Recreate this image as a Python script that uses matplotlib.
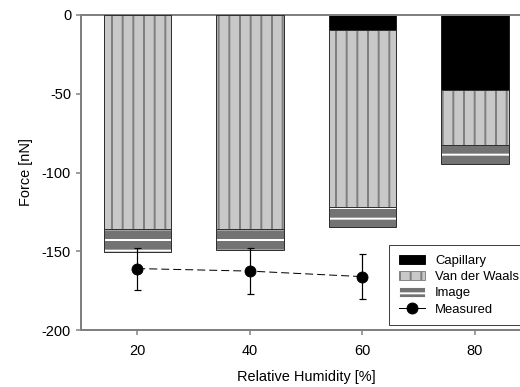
import matplotlib
matplotlib.use("Agg")
import matplotlib.pyplot as plt
import numpy as np
from matplotlib.patches import Patch
from matplotlib.lines import Line2D

# data (forces in nN, drawn downward)
rh = np.array([20, 40, 60, 80])
capillary = np.array([0.0, 0.0, 9.3, 47.9])
vdw = np.array([135.9, 136.0, 112.4, 34.7])
image = np.array([14.6, 13.2, 12.7, 12.0])

rh_meas = np.array([20, 40, 60])
measured = np.array([-161.0, -162.6, -166.1])
meas_err = np.array([13.3, 14.5, 14.2])

DPI = 64
PT = 72 / DPI  # pixel -> point

plt.rcParams['font.family'] = ['Liberation Sans', 'DejaVu Sans']
plt.rcParams['hatch.linewidth'] = 2.0 * PT
plt.rcParams['axes.unicode_minus'] = False

fig = plt.figure(figsize=(520 / DPI, 387 / DPI), dpi=DPI)
ax = fig.add_axes([81 / 520, 1 - 330 / 387, 450 / 520, 315 / 387])

w = 12
top_cap = np.zeros(4)
top_vdw = -capillary
top_img = -(capillary + vdw)

# capillary
ax.bar(rh, -capillary, w, bottom=top_cap, color='black',
       edgecolor='#202020', linewidth=1 * PT, zorder=2)
# van der waals: light grey with grey vertical stripes
ax.bar(rh, -vdw, w, bottom=top_vdw, facecolor='#c8c8c8',
       edgecolor='#7f7f7f', hatch='|', linewidth=0, zorder=2)
ax.bar(rh, -vdw, w, bottom=top_vdw, fill=False,
       edgecolor='#303030', linewidth=1 * PT, zorder=3)
# image: dark grey with white horizontal stripes
ax.bar(rh, -image, w, bottom=top_img, facecolor='#737373',
       edgecolor='white', hatch='-', linewidth=0, zorder=2)
ax.bar(rh, -image, w, bottom=top_img, fill=False,
       edgecolor='#303030', linewidth=1 * PT, zorder=3)

# measured values
ax.errorbar(rh_meas, measured, yerr=meas_err, fmt='none', ecolor='black',
            elinewidth=1.2 * PT, capsize=3.5 * PT, capthick=1.2 * PT, zorder=4)
ax.plot(rh_meas, measured, color='black', linestyle=(0, (8, 4)),
        linewidth=1 * PT, marker='o', markersize=11 * PT, zorder=5)

ax.set_xlim(10, 90)
ax.set_ylim(-200, 0)
ax.set_xticks([20, 40, 60, 80])
ax.set_yticks([0, -50, -100, -150, -200])

for s in ['top', 'left', 'bottom']:
    ax.spines[s].set_color('#808080')
    ax.spines[s].set_linewidth(2 * PT)
ax.spines['right'].set_visible(False)
ax.tick_params(direction='out', length=5 * PT, width=1.5 * PT, color='#808080',
               labelsize=14.5 * PT, pad=5 * PT)
ax.tick_params(axis='x', pad=9 * PT)

ax.set_xlabel('Relative Humidity [%]', fontsize=14.5 * PT, labelpad=12 * PT)
ax.set_ylabel('Force [nN]', fontsize=14.5 * PT, labelpad=9 * PT)

handles = [
    Patch(facecolor='black', edgecolor='black', label='Capillary'),
    Patch(facecolor='#c8c8c8', edgecolor='#7f7f7f', hatch='|', label='Van der Waals'),
    Patch(facecolor='#737373', edgecolor='white', hatch='-', label='Image'),
    Line2D([], [], color='black', marker='o', markersize=11 * PT,
           linewidth=1 * PT, label='Measured'),
]
leg = fig.legend(handles=handles, loc='upper left',
                 bbox_to_anchor=(389 / 520, 1 - 245 / 387),
                 fontsize=13 * PT, frameon=True, fancybox=False,
                 framealpha=1, edgecolor='#404040', handlelength=2.0,
                 handleheight=0.75, handletextpad=0.8, labelspacing=0.3,
                 borderpad=0.75, borderaxespad=0)
leg.get_frame().set_linewidth(1 * PT)

fig.savefig('out.png', dpi=DPI)
